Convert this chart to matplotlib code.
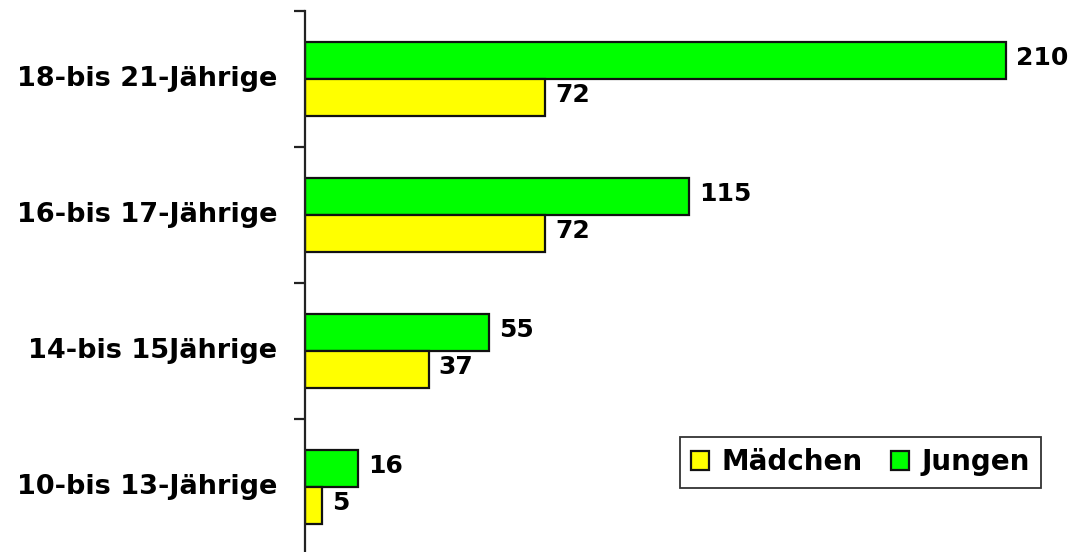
import matplotlib
matplotlib.use("Agg")
import matplotlib.pyplot as plt
import numpy as np

categories = ["18-bis 21-Jährige", "16-bis 17-Jährige", "14-bis 15Jährige", "10-bis 13-Jährige"]
jungen = [210, 115, 55, 16]
maedchen = [72, 72, 37, 5]
series_names = ["Mädchen", "Jungen"]

W, H = 1073, 552
fig = plt.figure(figsize=(W / 100, H / 100), dpi=100)
ax = fig.add_axes([305 / W, -3 / H, 768 / W, 544 / H])

y = np.arange(len(categories))
bh = 0.272
edge = "#111111"
bj = ax.barh(y - bh / 2, jungen, height=bh, color="#00FF00", edgecolor=edge, linewidth=1.6, label=series_names[1])
bm = ax.barh(y + bh / 2, maedchen, height=bh, color="#FFFF00", edgecolor=edge, linewidth=1.6, label=series_names[0])

ax.set_xlim(0, 230)
ax.set_ylim(3.5, -0.5)

for rects, vals in ((bj, jungen), (bm, maedchen)):
    for r, v in zip(rects, vals):
        ax.text(r.get_width() + 3, r.get_y() + r.get_height() / 2 - 0.02, str(v),
                ha="left", va="center", fontsize=18, fontweight="heavy",
                family="DejaVu Sans", color="black")

ax.set_yticks(np.arange(-0.5, 4.0, 1.0))
ax.set_yticklabels([])
ax.set_yticks(y - 0.02, minor=True)
ax.set_yticklabels(categories, minor=True, fontsize=19.5, fontweight="heavy", family="DejaVu Sans")
ax.tick_params(axis="y", which="major", direction="out", length=8, width=1.6, color="#222222")
ax.tick_params(axis="y", which="minor", length=0, pad=20)
ax.set_xticks([])
for s in ("top", "right", "bottom"):
    ax.spines[s].set_visible(False)
ax.spines["left"].set_linewidth(1.6)
ax.spines["left"].set_color("#222222")

leg = fig.legend(handles=[bm, bj], labels=series_names, ncol=2,
                 loc="center", bbox_to_anchor=(860.5 / W, 1 - 462.5 / H),
                 prop={"family": "DejaVu Sans", "weight": "heavy", "size": 20},
                 handlelength=0.65, handleheight=0.65, handletextpad=0.45,
                 columnspacing=1.0, frameon=True, fancybox=False,
                 borderpad=0.4, borderaxespad=0)
leg.get_frame().set_edgecolor("black")
leg.get_frame().set_linewidth(1.3)
for h in leg.legend_handles:
    h.set_linewidth(1.6)

fig.savefig("out.png", dpi=100)
